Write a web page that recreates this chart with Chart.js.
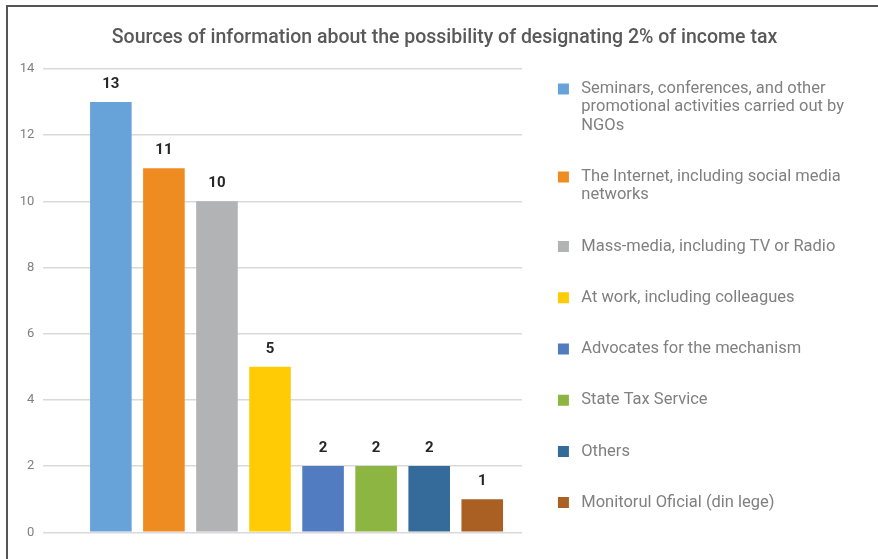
<!DOCTYPE html>
<html>
<head>
<meta charset="utf-8">
<script src="https://cdn.jsdelivr.net/npm/chart.js@4/dist/chart.umd.min.js"></script>
<style>
  html, body { margin: 0; padding: 0; background: #ffffff; }
  #wrap { position: relative; width: 878px; height: 559px; overflow: hidden; }
  #frame {
    position: absolute; left: 6px; top: 5px; width: 880px; height: 560px;
    border-top: 2px solid #555555; border-left: 2px solid #555555;
    box-sizing: border-box; pointer-events: none;
  }
  canvas { position: absolute; left: 0; top: 0; }
</style>
</head>
<body>
<div id="wrap">
  <canvas id="chart" width="878" height="559"></canvas>
  <div id="frame"></div>
</div>
<script>
// Survey answers: where respondents heard about designating 2% of income tax
const chartTitle = 'Sources of information about the possibility of designating 2% of income tax';

const sources = [
  ['Seminars, conferences, and other', 'promotional activities carried out by', 'NGOs'],
  ['The Internet, including social media', 'networks'],
  ['Mass-media, including TV or Radio'],
  ['At work, including colleagues'],
  ['Advocates for the mechanism'],
  ['State Tax Service'],
  ['Others'],
  ['Monitorul Oficial (din lege)']
];

const counts = [13, 11, 10, 5, 2, 2, 2, 1];

const barColors = ['#67a3d9', '#ee8c22', '#b2b3b5', '#ffcb05', '#527cc1', '#8db541', '#356b9b', '#ab6023'];

const yMin = 0;
const yMax = 14;
const yStep = 2;

const FONT = 'Roboto, "Open Sans", sans-serif';

// Each source is its own series, so all bars sit side by side in one group
const datasets = counts.map((v, i) => ({
  label: sources[i].join(' '),
  data: [v],
  backgroundColor: barColors[i],
  borderWidth: 0,
  categoryPercentage: 0.8866,
  barPercentage: 0.784
}));

// Writes each bar's value above it
const valueLabels = {
  id: 'valueLabels',
  afterDatasetsDraw(chart) {
    const ctx = chart.ctx;
    ctx.save();
    ctx.font = 'bold 15px ' + FONT;
    ctx.fillStyle = '#262626';
    ctx.textAlign = 'center';
    ctx.textBaseline = 'middle';
    chart.data.datasets.forEach((ds, i) => {
      const bar = chart.getDatasetMeta(i).data[0];
      ctx.fillText(String(ds.data[0]), bar.x, bar.y - 18);
    });
    ctx.restore();
  }
};

// Centre the title across the framed panel rather than the padded layout box
const titleSpan = {
  id: 'titleSpan',
  afterLayout(chart) {
    const t = chart.titleBlock;
    if (t) { t.left = 11; t.right = chart.width; }
  }
};

new Chart(document.getElementById('chart'), {
  type: 'bar',
  data: { labels: [''], datasets },
  options: {
    responsive: false,
    devicePixelRatio: 1,
    animation: false,
    layout: { padding: { left: 0, right: 24, top: 0, bottom: 13.4 } },
    plugins: {
      tooltip: { enabled: false },
      title: {
        display: true,
        text: chartTitle,
        color: '#595959',
        font: { family: FONT, size: 19.5, weight: '500', lineHeight: 1.2 },
        padding: { top: 26, bottom: 19.6 }
      },
      legend: {
        position: 'right',
        align: 'end',
        maxWidth: 400,
        labels: {
          boxWidth: 11,
          boxHeight: 11,
          padding: 32.9,
          color: '#808080',
          font: { family: FONT, size: 16.5, lineHeight: 1.111 },
          generateLabels: chart => chart.data.datasets.map((ds, i) => ({
            text: sources[i].map(line => ' ' + line),
            fillStyle: ds.backgroundColor,
            strokeStyle: ds.backgroundColor,
            lineWidth: 0,
            hidden: false,
            datasetIndex: i,
            fontColor: '#808080'
          }))
        }
      }
    },
    scales: {
      x: {
        grid: { display: false },
        border: { display: false },
        ticks: { display: false },
        // shift the single category so the group sits slightly right of centre
        afterDataLimits: scale => { scale.min = -0.029; },
        afterFit: scale => { scale.height = 13.3; }
      },
      y: {
        min: yMin,
        max: yMax,
        ticks: {
          stepSize: yStep,
          padding: 9,
          color: '#808080',
          font: { family: FONT, size: 13 }
        },
        grid: { color: '#d9d9d9', lineWidth: 1.5, drawTicks: false },
        border: { display: false },
        afterFit: scale => { scale.width = 43.3; }
      },
      // empty strip between the plot and the legend
      gap: {
        type: 'linear',
        position: 'right',
        display: true,
        grid: { display: false },
        border: { display: false },
        ticks: { display: false },
        afterFit: scale => { scale.width = 3; }
      }
    }
  },
  plugins: [valueLabels, titleSpan]
});
</script>
</body>
</html>
